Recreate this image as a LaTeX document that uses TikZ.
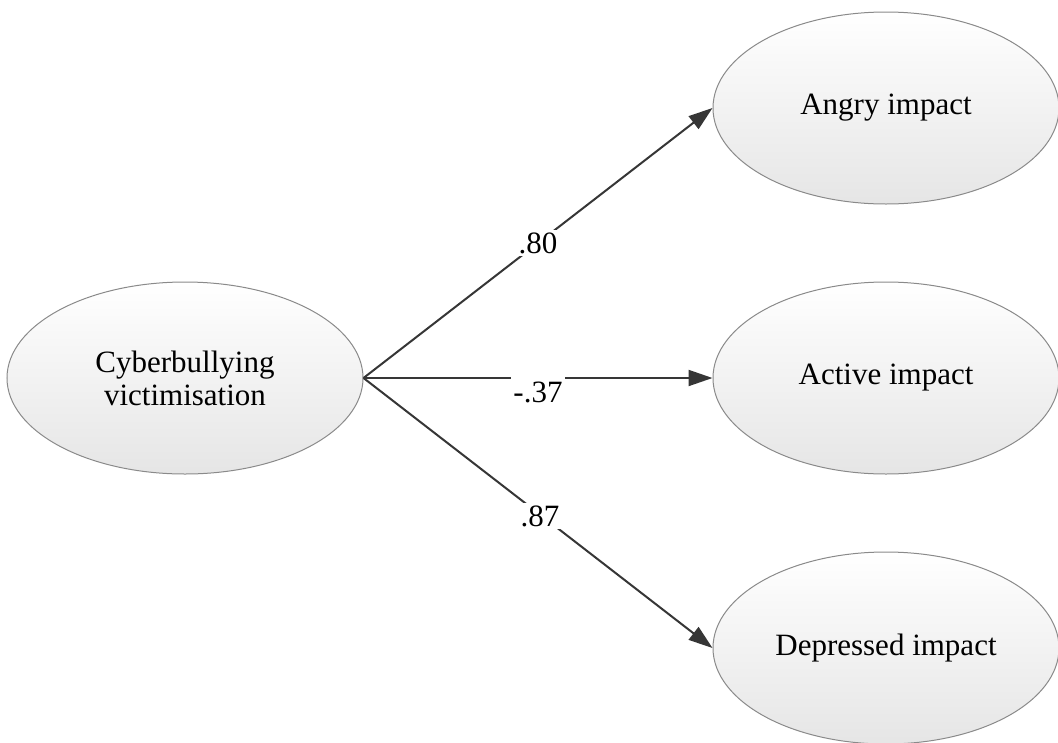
\documentclass[tikz,border=0pt]{standalone}
\usepackage{fontspec}
\setmainfont{Liberation Serif}
\usetikzlibrary{arrows.meta,shapes,positioning,shadings}

\definecolor{pathgray}{HTML}{363636}
\definecolor{rimgray}{HTML}{8A8A8A}

\begin{document}
\begin{tikzpicture}[x=1pt, y=-1pt, >={Triangle[length=24pt,width=16pt]}, on grid,
                font=\fontsize{31}{35}\selectfont,
                latent/.style={ellipse, draw=rimgray, line width=1pt, inner sep=0pt,
                               top color=white, bottom color=white!90!black,
                               minimum width=346pt, minimum height=192pt, align=center},
                coef/.style={fill=white, text=black, inner sep=2pt}]
                \useasboundingbox (0,0) rectangle (1058,742);
                \node[latent, minimum width=356pt] (cyber) at (185,378) {Cyberbullying\\[-2pt]victimisation};
                \node[latent, right=701pt of cyber] (active) {Active impact};
                \node[latent, above=270pt of active] (angry) {Angry impact};
                \node[latent, below=270pt of active] (depressed) {Depressed impact};

                \path[->, pathgray, line width=2pt]
                          (cyber.east) edge node[coef] {.80} (angry.west)
                          (cyber.east) edge node[coef, inner ysep=5pt, yshift=-14pt] {-.37} (active.west)
                          (cyber.east) edge node[coef, xshift=2pt, yshift=-3pt] {.87} (depressed.west);
\end{tikzpicture}
\end{document}
